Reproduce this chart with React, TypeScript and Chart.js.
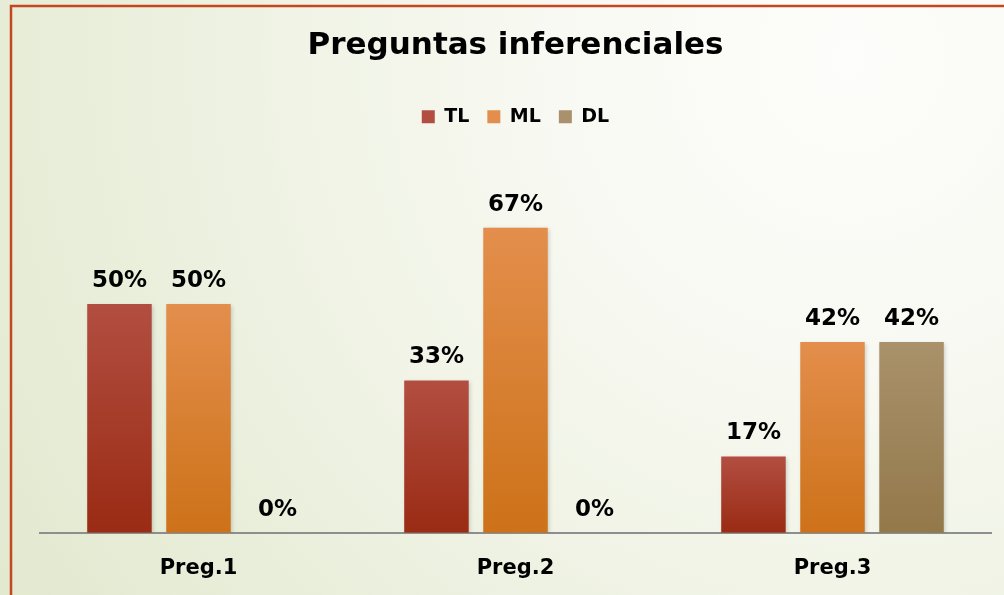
import React, { useEffect, useRef } from "react";
import { Chart, registerables } from "chart.js";

Chart.register(...registerables);

const categories = ["Preg.1", "Preg.2", "Preg.3"];
const seriesNames = ["TL", "ML", "DL"];
const tlValues = [0.5, 0.333, 0.167];
const mlValues = [0.5, 0.667, 0.417];
const dlValues = [0, 0, 0.417];
const yMax = 0.867;

const FONT = "'DejaVu Sans', sans-serif";
const gradientStops: [string, string][] = [
  ["#b24e41", "#9a2b14"],
  ["#e38e4c", "#cd7219"],
  ["#a9916b", "#93784a"],
];

function makeFill(i: number) {
  return (ctx: any) => {
    const chart = ctx.chart;
    const c = chart.ctx;
    const [top, bottom] = gradientStops[i];
    if (ctx.type !== "data") {
      const g = c.createLinearGradient(0, 109, 0, 123);
      g.addColorStop(0, top);
      g.addColorStop(1, bottom);
      return g;
    }
    const ys = chart.scales?.y;
    if (!ys || !chart.chartArea) return top;
    const v = ctx.raw as number;
    const y0 = ys.getPixelForValue(v);
    const y1 = ys.getPixelForValue(0);
    if (Math.abs(y1 - y0) < 1) return top;
    const g = c.createLinearGradient(0, y0, 0, y1);
    g.addColorStop(0, top);
    g.addColorStop(1, bottom);
    return g;
  };
}

const backgroundPlugin = {
  id: "bgPlugin",
  beforeDraw(chart: any) {
    const c = chart.ctx;
    const w = chart.width;
    const h = chart.height;
    c.save();
    const g = c.createRadialGradient(850, 60, 0, 850, 60, 1000);
    g.addColorStop(0, "#fdfdfb");
    g.addColorStop(0.3, "#f8f9f2");
    g.addColorStop(1, "#e2e9cf");
    c.fillStyle = g;
    c.fillRect(0, 0, w, h);
    c.strokeStyle = "#c4471f";
    c.lineWidth = 2.5;
    c.beginPath();
    c.moveTo(11, h + 10);
    c.lineTo(11, 6);
    c.lineTo(w + 10, 6);
    c.stroke();
    c.restore();
  },
  beforeDatasetDraw(chart: any) {
    const c = chart.ctx;
    c.save();
    c.shadowColor = "rgba(0,0,0,0.18)";
    c.shadowBlur = 4;
    c.shadowOffsetX = 1.5;
    c.shadowOffsetY = 1.5;
  },
  afterDatasetDraw(chart: any) {
    chart.ctx.restore();
  },
};

const labelPlugin = {
  id: "valueLabels",
  afterDatasetsDraw(chart: any) {
    const c = chart.ctx;
    c.save();
    c.font = `bold 23px ${FONT}`;
    c.fillStyle = "#000";
    c.textAlign = "center";
    c.textBaseline = "alphabetic";
    chart.data.datasets.forEach((ds: any, di: number) => {
      const meta = chart.getDatasetMeta(di);
      meta.data.forEach((el: any, i: number) => {
        const v = ds.data[i] as number;
        c.fillText(Math.round(v * 100) + "%", el.x, el.y - 17);
      });
    });
    c.restore();
  },
};

export default function App() {
  const ref = useRef<HTMLCanvasElement | null>(null);
  useEffect(() => {
    if (!ref.current) return;
    const values = [tlValues, mlValues, dlValues];
    const chart = new Chart(ref.current, {
      type: "bar",
      data: {
        labels: categories,
        datasets: seriesNames.map((name, i) => ({
          label: name,
          data: values[i],
          backgroundColor: makeFill(i),
          borderWidth: 0,
          categoryPercentage: 0.748,
          barPercentage: 0.816,
        })),
      },
      options: {
        responsive: false,
        animation: false,
        events: [],
        layout: { padding: { left: 40, right: 13, top: 27, bottom: -9 } },
        font: { family: FONT },
        plugins: {
          title: {
            display: true,
            text: "Preguntas inferenciales",
            color: "#000",
            font: { family: FONT, size: 31, weight: "bold" },
            padding: { top: 0, bottom: 25 },
          },
          legend: {
            display: true,
            position: "top",
            labels: {
              boxWidth: 13,
              boxHeight: 13,
              color: "#000",
              padding: 18,
              font: { family: FONT, size: 19, weight: "bold" },
            },
          },
          tooltip: { enabled: false },
        },
        scales: {
          x: {
            grid: { display: false, drawTicks: false },
            border: { display: true, color: "#8e8e8e", width: 2 },
            ticks: {
              color: "#000",
              padding: 23,
              font: { family: FONT, size: 21, weight: "bold" },
            },
          },
          y: {
            display: false,
            min: 0,
            max: yMax,
          },
        },
      },
      plugins: [backgroundPlugin, labelPlugin],
    } as any);
    return () => chart.destroy();
  }, []);
  return (
    <div style={{ position: "fixed", left: 0, top: 0, width: 1004, height: 595 }}>
      <canvas ref={ref} width={1004} height={595} style={{ display: "block" }} />
    </div>
  );
}
